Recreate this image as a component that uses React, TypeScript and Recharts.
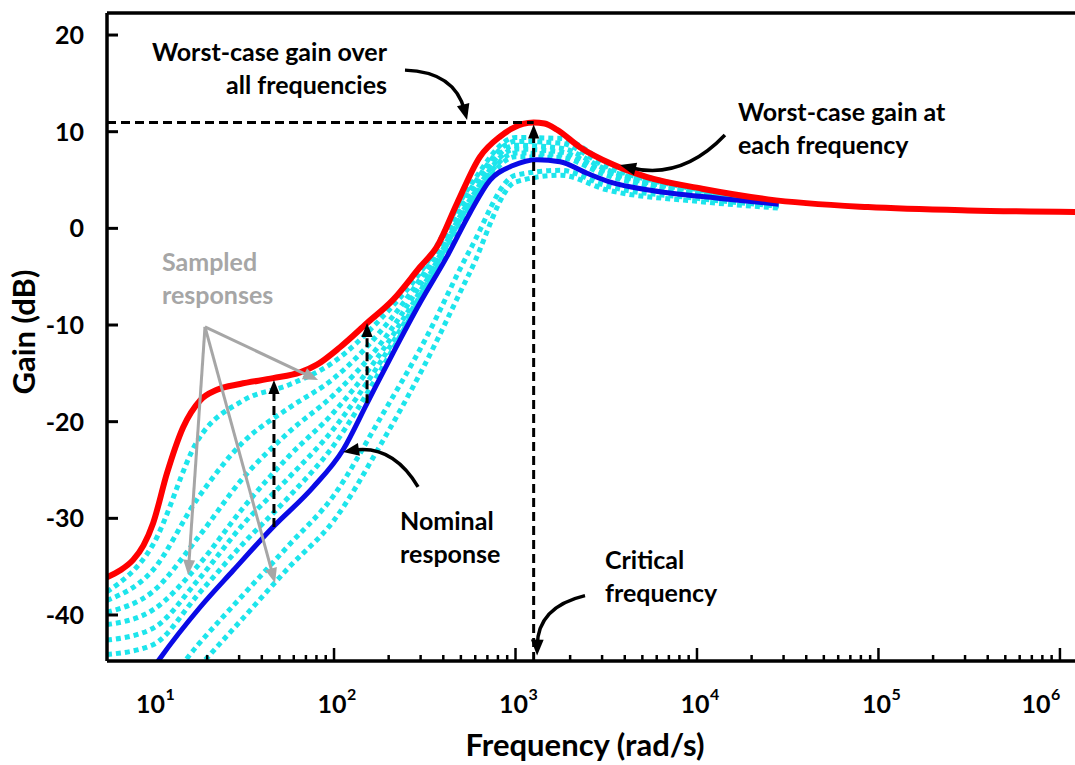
import React from 'react';
import { LineChart, Line, XAxis, YAxis, ReferenceLine, ReferenceDot } from 'recharts';

const FONT = 'Lato, "Open Sans", sans-serif';

// x axis works in log10(frequency)
const X_MIN = 0.749;
const X_MAX = 6.083;
const Y_MIN = -44.76;
const Y_MAX = 22.28;

const DECADES = [1, 2, 3, 4, 5, 6];
const MINOR_STEPS = [2, 3, 4, 5, 6, 7, 8, 9];
const GAIN_TICKS = [-40, -30, -20, -10, 0, 10, 20];

// worst-case gain at each frequency (red)
const WORST_K = [0.749, 0.82, 0.893, 0.95, 1.003, 1.08, 1.168, 1.262, 1.355, 1.482, 1.664, 1.813, 1.906, 2.033, 2.182, 2.325, 2.474, 2.567, 2.678, 2.804, 2.915, 3.041, 3.1, 3.16, 3.229, 3.355, 3.537, 3.725, 4.028, 4.391, 4.942, 5.493, 6.083];
const WORST_DB = [-36.1, -35.4, -34.3, -32.8, -30.5, -25.3, -20.6, -17.8, -16.7, -16.1, -15.5, -14.9, -14.1, -12.3, -9.8, -7.4, -4.0, -1.9, 2.6, 7.4, 9.5, 10.8, 10.95, 10.85, 10.2, 8.4, 6.6, 5.3, 4.1, 3.0, 2.2, 1.85, 1.7];

// nominal response (blue)
const NOMINAL_K = [1.0, 1.041, 1.262, 1.444, 1.664, 1.884, 2.05, 2.182, 2.325, 2.474, 2.623, 2.749, 2.86, 2.986, 3.118, 3.245, 3.394, 3.537, 3.725, 4.127, 4.45];
const NOMINAL_DB = [-45.6, -44.5, -39.2, -35.4, -30.9, -26.8, -22.9, -18.1, -12.9, -7.7, -2.9, 1.6, 5.0, 6.5, 7.1, 6.9, 5.7, 4.7, 4.0, 3.1, 2.5];

// sampled responses (cyan, dotted)
const SAMPLE_K = [0.749, 1.0, 1.25, 1.5, 1.75, 2.0, 2.25, 2.5, 2.75, 3.0, 3.25, 3.5, 4.0, 4.45];
const SAMPLE_1 = [-37.6, -32.8, -21.9, -17.8, -16.2, -13.8, -9.5, -3.9, 4.4, 9.4, 9.3, 6.8, 4.1, 2.6];
const SAMPLE_2 = [-38.5, -35.4, -27.9, -22.1, -18.6, -15.5, -10.8, -4.5, 4.0, 9.0, 8.8, 6.4, 4.0, 2.5];
const SAMPLE_3 = [-39.7, -37.6, -32.0, -25.8, -21.1, -17.2, -12.1, -5.1, 3.4, 8.6, 8.3, 6.1, 3.9, 2.5];
const SAMPLE_4 = [-41.0, -39.5, -34.9, -28.9, -23.6, -19.0, -13.1, -5.7, 3.0, 8.2, 7.9, 5.9, 3.8, 2.4];
const SAMPLE_5 = [-42.6, -41.4, -36.4, -30.6, -25.8, -20.7, -14.0, -6.1, 2.6, 7.8, 7.6, 5.7, 3.7, 2.4];
const SAMPLE_6 = [-44.1, -43.1, -37.9, -32.6, -27.8, -22.4, -14.9, -6.5, 2.2, 7.4, 7.3, 5.5, 3.6, 2.3];
const SAMPLE_7 = [-51.9, -48.8, -43.1, -37.9, -32.8, -27.6, -19.8, -11.6, -2.2, 5.5, 6.0, 4.4, 3.1, 2.3];
const SAMPLE_8 = [-54.0, -50.9, -45.5, -40.3, -35.1, -30.2, -22.6, -14.1, -4.5, 4.8, 5.5, 4.0, 2.8, 2.1];
const SAMPLES = [SAMPLE_1, SAMPLE_2, SAMPLE_3, SAMPLE_4, SAMPLE_5, SAMPLE_6, SAMPLE_7, SAMPLE_8];

// annotation marks, in (log10 freq, dB)
const PEAK_K = 3.1;
const PEAK_DB = 10.95;
const GAP_ARROWS = [
  { k: 1.669, from: -30.9, to: -15.7 },
  { k: 2.182, from: -18.1, to: -9.8 },
];
const CURVED_ARROWS = [
  { from: [2.391, 16.37], to: [2.733, 11.2], bend: -30 },
  { from: [4.154, 9.65], to: [3.576, 6.55], bend: -32 },
  { from: [2.463, -26.75], to: [2.05, -23.13], bend: 28 },
  { from: [3.383, -38.0], to: [3.119, -44.2], bend: 30 },
];
const SAMPLE_POINTER_FROM = [1.289, -10.2];
const SAMPLE_POINTER_TO = [[1.912, -15.7], [1.196, -35.86], [1.675, -36.7]];
const NOTES = [
  { k: 2.292, db: 17.31, lines: ['Worst-case gain over', 'all frequencies'], anchor: 'end', color: '#000' },
  { k: 4.226, db: 11.1, lines: ['Worst-case gain at', 'each frequency'], anchor: 'start', color: '#000' },
  { k: 1.052, db: -4.42, lines: ['Sampled', 'responses'], anchor: 'start', color: '#a6a6a6' },
  { k: 2.364, db: -31.2, lines: ['Nominal', 'response'], anchor: 'start', color: '#000' },
  { k: 3.493, db: -35.2, lines: ['Critical', 'frequency'], anchor: 'start', color: '#000' },
];

const toRows = (ks: number[], vs: number[]) => ks.map((k, i) => ({ k, v: vs[i] }));

const FREQ_TICKS = DECADES.flatMap(d => [d, ...MINOR_STEPS.map(m => d + Math.log10(m))]).filter(v => v <= X_MAX);

const AXIS_LINE = { stroke: '#000', strokeWidth: 3.5 };
const isMajor = (v: number) => Math.abs(v - Math.round(v)) < 1e-6;

const BottomTick = ({ x, y, payload }: any) => {
  const v = payload.value;
  const major = isMajor(v);
  // keep the last label inside the picture
  const lx = x - Math.max(0, x + 24 - 1062);
  return (
    <g>
      {v > 1.2 && <line x1={x} x2={x} y1={y} y2={y - (major ? 13 : 6)} stroke="#000" strokeWidth={2.5} />}
      {major && (
        <g fontFamily={FONT} fontWeight={700} fill="#000">
          <text x={lx - 2} y={y + 52} textAnchor="middle" fontSize={25}>10</text>
          <text x={lx + 13} y={y + 39} fontSize={16}>{Math.round(v)}</text>
        </g>
      )}
    </g>
  );
};

const TopTick = ({ x, y, payload }: any) => {
  const v = payload.value;
  if (v <= 1.2) return <g />;
  return <line x1={x} x2={x} y1={y} y2={y + (isMajor(v) ? 12 : 6)} stroke="#000" strokeWidth={2.5} />;
};

const GainTick = ({ x, y, payload }: any) => (
  <g>
    <line x1={x} x2={x + 11} y1={y} y2={y} stroke="#000" strokeWidth={3} />
    <text x={x - 23} y={y + 9} textAnchor="end" fontFamily={FONT} fontWeight={700} fontSize={25} fill="#000">
      {payload.value}
    </text>
  </g>
);

const xTitle = (p: any) => {
  const vb = p.viewBox;
  return (
    <text x={vb.x + vb.width / 2 - 6} y={vb.y + 95} textAnchor="middle" fontFamily={FONT} fontWeight={700} fontSize={31} fill="#000">
      Frequency (rad/s)
    </text>
  );
};

const yTitle = (p: any) => {
  const vb = p.viewBox;
  const cy = vb.y + vb.height / 2 - 5;
  return (
    <text x={35} y={cy} transform={`rotate(-90, 35, ${cy})`} textAnchor="middle" fontFamily={FONT} fontWeight={700} fontSize={31} fill="#000">
      Gain (dB)
    </text>
  );
};

function arrowShape(color: string, width: number, bend: number, head: number, dash?: string) {
  return (p: any) => {
    const { x1, y1, x2, y2 } = p;
    const dx = x2 - x1;
    const dy = y2 - y1;
    const len = Math.hypot(dx, dy) || 1;
    const cx = (x1 + x2) / 2 - (dy / len) * bend;
    const cy = (y1 + y2) / 2 + (dx / len) * bend;
    let tx = bend ? x2 - cx : dx;
    let ty = bend ? y2 - cy : dy;
    const tl = Math.hypot(tx, ty) || 1;
    tx /= tl;
    ty /= tl;
    const hw = head * 0.4;
    const bx = x2 - tx * head;
    const by = y2 - ty * head;
    const ex = x2 - tx * head * 0.6;
    const ey = y2 - ty * head * 0.6;
    const d = bend ? `M${x1},${y1} Q${cx},${cy} ${ex},${ey}` : `M${x1},${y1} L${ex},${ey}`;
    return (
      <g>
        <path d={d} fill="none" stroke={color} strokeWidth={width} strokeDasharray={dash} />
        {head > 0 && (
          <polygon points={`${x2},${y2} ${bx - ty * hw},${by + tx * hw} ${bx + ty * hw},${by - tx * hw}`} fill={color} />
        )}
      </g>
    );
  };
}

const noteShape = (lines: string[], anchor: string, color: string) => (p: any) => (
  <text x={p.cx} y={p.cy} textAnchor={anchor} fill={color} fontFamily={FONT} fontWeight={700} fontSize={25}>
    {lines.map((s, i) => (
      <tspan key={i} x={p.cx} dy={i === 0 ? 0 : 33}>{s}</tspan>
    ))}
  </text>
);

const AX = { xAxisId: 'bottom', yAxisId: 'gain' };

export default function App() {
  return (
    <div style={{ position: 'fixed', left: 0, top: 0, width: 1075, height: 765, background: '#fff', overflow: 'hidden' }}>
      <LineChart width={1075} height={765} margin={{ top: 0, right: 0, bottom: 0, left: 0 }}>
        <XAxis
          xAxisId="top"
          orientation="top"
          type="number"
          domain={[X_MIN, X_MAX]}
          allowDataOverflow
          ticks={FREQ_TICKS}
          interval={0}
          height={13}
          tickSize={0}
          tickMargin={0}
          tickLine={false}
          axisLine={AXIS_LINE}
          tick={TopTick}
        />
        <XAxis
          xAxisId="bottom"
          dataKey="k"
          type="number"
          domain={[X_MIN, X_MAX]}
          allowDataOverflow
          ticks={FREQ_TICKS}
          interval={0}
          height={104}
          tickSize={0}
          tickMargin={0}
          tickLine={false}
          axisLine={AXIS_LINE}
          tick={BottomTick}
          label={xTitle}
        />
        <YAxis
          yAxisId="gain"
          type="number"
          domain={[Y_MIN, Y_MAX]}
          allowDataOverflow
          ticks={GAIN_TICKS}
          interval={0}
          width={107}
          tickSize={0}
          tickMargin={0}
          tickLine={false}
          axisLine={AXIS_LINE}
          tick={GainTick}
          label={yTitle}
        />

        {SAMPLES.map((s, i) => (
          <Line
            key={i}
            {...AX}
            data={toRows(SAMPLE_K, s)}
            dataKey="v"
            type="monotone"
            stroke="#1de5ec"
            strokeWidth={5}
            strokeDasharray="5 4"
            dot={false}
            activeDot={false}
            isAnimationActive={false}
          />
        ))}
        <Line {...AX} data={toRows(NOMINAL_K, NOMINAL_DB)} dataKey="v" type="monotone" stroke="#0a0ae6" strokeWidth={5} dot={false} activeDot={false} isAnimationActive={false} />
        <Line {...AX} data={toRows(WORST_K, WORST_DB)} dataKey="v" type="monotone" stroke="#ff0000" strokeWidth={6} dot={false} activeDot={false} isAnimationActive={false} />

        <ReferenceLine {...AX} ifOverflow="visible" segment={[{ x: X_MIN, y: PEAK_DB }, { x: PEAK_K, y: PEAK_DB }]} shape={arrowShape('#000', 3, 0, 0, '9 5')} />
        <ReferenceLine {...AX} ifOverflow="visible" segment={[{ x: PEAK_K, y: Y_MIN }, { x: PEAK_K, y: PEAK_DB - 0.2 }]} shape={arrowShape('#000', 3, 0, 14, '9 5')} />
        {GAP_ARROWS.map((a, i) => (
          <ReferenceLine key={`g${i}`} {...AX} ifOverflow="visible" segment={[{ x: a.k, y: a.from }, { x: a.k, y: a.to }]} shape={arrowShape('#000', 3, 0, 14, '9 5')} />
        ))}
        {SAMPLE_POINTER_TO.map((t, i) => (
          <ReferenceLine key={`s${i}`} {...AX} ifOverflow="visible" segment={[{ x: SAMPLE_POINTER_FROM[0], y: SAMPLE_POINTER_FROM[1] }, { x: t[0], y: t[1] }]} shape={arrowShape('#a6a6a6', 3, 0, 15)} />
        ))}
        {CURVED_ARROWS.map((a, i) => (
          <ReferenceLine key={`c${i}`} {...AX} ifOverflow="visible" segment={[{ x: a.from[0], y: a.from[1] }, { x: a.to[0], y: a.to[1] }]} shape={arrowShape('#000', 3.5, a.bend, 16)} />
        ))}
        {NOTES.map((n, i) => (
          <ReferenceDot key={`n${i}`} {...AX} x={n.k} y={n.db} ifOverflow="visible" shape={noteShape(n.lines, n.anchor, n.color)} />
        ))}
      </LineChart>
    </div>
  );
}
